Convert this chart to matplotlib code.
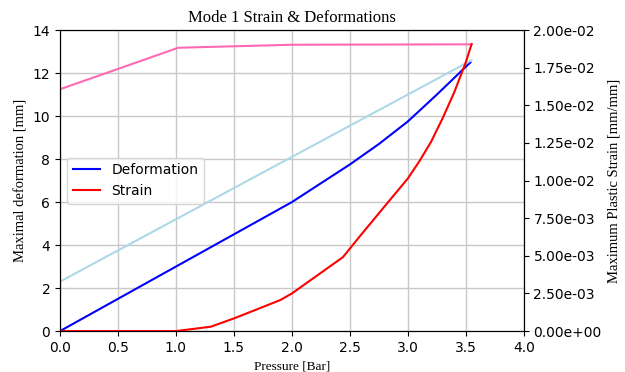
import matplotlib
matplotlib.use('Agg')
from matplotlib import pyplot as plt
from matplotlib.ticker import FormatStrFormatter

# deformation (left axis, mm)
def_p = [0.0, 1.0, 2.0, 2.5, 2.75, 3.0, 3.25, 3.54]
def_mm = [0.0, 3.0, 6.0, 7.75, 8.7, 9.75, 11.0, 12.5]

# light blue reference line (left axis)
ref_p = [0.0, 3.55]
ref_mm = [2.3, 12.6]

# pink line (left axis)
pink_p = [0.0, 1.02, 2.0, 3.55]
pink_mm = [11.25, 13.18, 13.32, 13.34]

# plastic strain (right axis, mm/mm)
strain_p = [0.0, 1.0, 1.3, 1.5, 1.9, 2.0, 2.44, 2.6, 2.8, 3.0, 3.1, 3.2,
            3.3, 3.4, 3.5, 3.55]
strain = [0.0, 0.0, 0.00029, 0.00084, 0.00206, 0.0025, 0.00491, 0.00643,
          0.00829, 0.01014, 0.01129, 0.01257, 0.01414, 0.01586, 0.01786, 0.01907]

fig = plt.figure(figsize=(6.25, 3.72), dpi=100)
ax = fig.add_axes([0.096, 0.110, 0.742, 0.809])
ax2 = ax.twinx()

l1, = ax.plot(def_p, def_mm, color='blue', lw=1.5, label='Deformation')
ax.plot(ref_p, ref_mm, color='lightblue', lw=1.5)
ax.plot(pink_p, pink_mm, color='hotpink', lw=1.5)
l2, = ax2.plot(strain_p, strain, color='red', lw=1.5, label='Strain')

ax.set_xlim(0, 4)
ax.set_ylim(0, 14)
ax2.set_ylim(0, 0.02)
ax.set_xticks([0, 0.5, 1, 1.5, 2, 2.5, 3, 3.5, 4])
ax.set_yticks(range(0, 15, 2))
ax2.set_yticks([i * 0.0025 for i in range(9)])
ax2.yaxis.set_major_formatter(FormatStrFormatter('%.2e'))
ax.grid(True, color='#c8c8c8', lw=1)
ax.tick_params(labelsize=10)
ax2.tick_params(labelsize=10)

ax.set_title('Mode 1 Strain & Deformations', family='Liberation Serif', fontsize=12)
ax.set_xlabel('Pressure [Bar]', family='Liberation Serif', fontsize=9.5)
ax.set_ylabel('Maximal deformation [mm]', family='Liberation Serif', fontsize=10.5)
ax2.set_ylabel('Maximum Plastic Strain [mm/mm]', family='Liberation Serif', fontsize=10.5)

ax.legend([l1, l2], ['Deformation', 'Strain'], loc='center left',
          bbox_to_anchor=(0.0, 0.5), fontsize=10)

fig.savefig('out.png', dpi=100)
